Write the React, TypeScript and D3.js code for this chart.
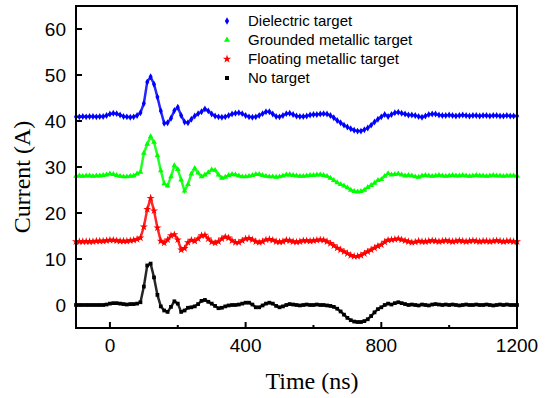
import * as d3 from 'd3';
import React, { useEffect, useRef } from 'react';

// time axis, sampled every 10 ns from -100 to 1200
const times = d3.range(-100, 1201, 10);

const noTarget = [
  0, 0, 0, 0, 0, 0, 0, 0, 0, 0.1,
  0.3, 0.4, 0.4, 0.3, 0.2, 0.1, 0.2, 0.2, 0.3, 0.6,
  4.0, 8.6, 9.0, 6.0, 2.2, -0.3, -1.2, -1.5, -0.4, 0.8,
  0.3, -1.5, -1.2, -0.6, -0.5, -0.3, 0.2, 0.9, 1.1, 0.7,
  0.3, -0.2, -0.7, -0.6, -0.3, -0.1, 0.0, 0.0, 0.1, 0.3,
  0.5, 0.5, 0.1, -0.5, -0.5, -0.1, 0.3, 0.5, 0.3, -0.2,
  -0.5, -0.3, 0.0, 0.2, 0.1, 0.0, -0.1, 0.0, 0.1, 0.0,
  0.0, 0.1, 0.0, 0.0, -0.1, -0.2, -0.4, -0.8, -1.4, -2.1,
  -2.8, -3.3, -3.6, -3.7, -3.7, -3.5, -3.1, -2.4, -1.6, -0.9,
  -0.5, 0.0, 0.3, 0.1, 0.4, 0.6, 0.4, 0.2, 0.0, 0.1,
  0.0, -0.1, 0.1, 0.0, -0.1, 0.1, 0.2, 0.1, 0.0, 0.1,
  0.0, 0.1, 0.0, -0.1, 0.0, 0.1, 0.0, 0.0, 0.1, 0.0,
  0.0, 0.1, 0.0, -0.1, 0.0, 0.1, 0.0, 0.1, 0.0, 0.0,
  0.0,
];

const floating = [
  13.8, 13.8, 13.8, 13.8, 13.8, 13.8, 13.9, 13.9, 13.9, 14.0,
  14.1, 14.1, 14.0, 13.9, 13.9, 13.9, 14.0, 14.1, 14.3, 14.6,
  17.0, 20.8, 23.2, 20.5, 16.8, 13.9, 13.5, 14.2, 15.1, 15.3,
  14.2, 12.0, 12.3, 13.6, 14.1, 13.9, 14.4, 15.1, 15.2, 14.4,
  13.7, 13.5, 13.8, 14.4, 14.8, 14.6, 14.0, 13.6, 13.6, 14.0,
  14.4, 14.5, 14.2, 13.8, 13.6, 13.8, 14.2, 14.3, 14.1, 13.8,
  13.7, 13.8, 14.1, 14.0, 13.8, 13.7, 13.8, 14.0, 14.0, 13.9,
  14.0, 14.1, 14.2, 14.1, 13.8, 13.4, 12.9, 12.4, 12.0, 11.6,
  11.2, 10.8, 10.6, 10.6, 10.8, 11.2, 11.6, 12.0, 12.4, 12.8,
  13.1, 13.7, 14.1, 14.2, 14.3, 14.4, 14.2, 14.0, 13.8, 13.6,
  13.7, 13.9, 13.8, 13.8, 13.9, 14.0, 13.9, 13.8, 13.9, 14.0,
  13.9, 13.8, 13.9, 14.0, 13.9, 13.8, 13.9, 14.0, 13.9, 13.8,
  13.9, 13.9, 13.8, 13.9, 14.0, 13.9, 13.8, 13.9, 13.9, 13.8,
  13.8,
];

const grounded = [
  28.0, 28.1, 28.0, 28.1, 28.1, 28.0, 28.1, 28.1, 28.2, 28.3,
  28.5, 28.4, 28.2, 28.0, 27.9, 27.9, 28.0, 28.1, 28.5, 28.9,
  33.0, 35.0, 36.6, 35.4, 32.5, 29.2, 26.4, 25.9, 27.9, 30.3,
  29.5, 27.2, 24.8, 26.2, 28.5, 29.7, 28.7, 27.9, 28.3, 28.8,
  29.4, 29.3, 28.3, 27.6, 27.8, 28.2, 28.4, 28.3, 28.1, 27.9,
  27.9, 28.0, 28.2, 28.4, 28.4, 28.2, 28.0, 27.9, 27.9, 27.8,
  27.9, 28.1, 28.3, 28.3, 28.2, 28.1, 28.0, 28.0, 28.1, 28.2,
  28.2, 28.3, 28.3, 28.2, 28.0, 27.6, 27.1, 26.6, 26.2, 25.9,
  25.5, 25.0, 24.7, 24.6, 24.7, 25.0, 25.6, 26.0, 26.5, 27.1,
  27.3, 28.0, 28.6, 28.3, 28.4, 28.5, 28.3, 28.1, 28.2, 28.1,
  27.9, 27.8, 28.1, 28.2, 28.1, 28.0, 28.1, 28.2, 28.1, 28.0,
  28.1, 28.2, 28.1, 28.1, 28.2, 28.1, 28.0, 28.1, 28.2, 28.1,
  28.1, 28.0, 28.1, 28.2, 28.1, 28.1, 28.0, 28.1, 28.1, 28.1,
  28.1,
];

const dielectric = [
  40.9, 40.9, 41.0, 40.9, 41.0, 41.0, 40.9, 41.0, 41.0, 41.2,
  41.5, 41.7, 41.6, 41.3, 41.0, 40.9, 40.8, 40.9, 41.2, 41.8,
  43.8, 48.5, 49.6, 48.0, 45.2, 42.2, 39.5, 39.6, 40.6, 42.3,
  43.0, 41.2, 39.8, 39.6, 40.4, 41.1, 41.6, 42.0, 42.6, 42.2,
  41.5, 41.1, 40.9, 40.8, 40.9, 41.2, 41.5, 41.7, 41.8, 41.6,
  41.2, 40.9, 40.8, 40.9, 41.2, 41.6, 42.0, 42.0, 41.5, 41.0,
  40.9, 41.2, 41.6, 41.7, 41.4, 41.1, 41.0, 41.0, 41.1, 41.3,
  41.4, 41.4, 41.5, 41.6, 41.5, 41.2, 40.7, 40.1, 39.6, 39.1,
  38.7, 38.3, 38.0, 37.8, 37.8, 38.1, 38.5, 39.1, 39.8, 40.4,
  40.9, 41.4, 41.0, 41.4, 41.8, 41.9, 41.7, 41.5, 41.3, 41.3,
  41.2, 41.0, 40.8, 41.1, 41.4, 41.5, 41.5, 41.3, 41.2, 41.2,
  41.3, 41.2, 41.1, 41.2, 41.3, 41.2, 41.1, 41.2, 41.2, 41.1,
  41.2, 41.2, 41.1, 41.2, 41.2, 41.1, 41.1, 41.2, 41.1, 41.1,
  41.1,
];

const seriesNames = ['Dielectric target', 'Grounded metallic target', 'Floating metallic target', 'No target'];
const seriesValues = [dielectric, grounded, floating, noTarget];
const seriesColors = ['#0000ff', '#00ff00', '#ff0000', '#000000'];
const seriesSymbols = [d3.symbolDiamond, d3.symbolTriangle, d3.symbolStar, d3.symbolSquare];

const xMajorTicks = [0, 400, 800, 1200];
const xMinorTicks = [200, 600, 1000];
const yTicks = [0, 10, 20, 30, 40, 50, 60];

const width = 547;
const height = 398;

const App = () => {
  const svgRef = useRef<SVGSVGElement>(null);

  useEffect(() => {
    const svg = d3.select(svgRef.current);
    svg.selectAll('*').remove();

    const left = 76, right = 517, top = 6, bottom = 328;

    const x = d3.scaleLinear().domain([-100, 1200]).range([left, right]);
    const y = d3.scaleLinear().domain([-5, 65]).range([bottom, top]);

    const line = d3.line<number>()
      .x((d, j) => x(times[j]))
      .y(d => y(d));

    // data: a thin trace under the markers so the flat parts read as a thick band
    seriesValues.forEach((vals, i) => {
      svg.append('path')
        .datum(vals)
        .attr('d', line)
        .attr('fill', 'none')
        .attr('stroke', seriesColors[i])
        .attr('stroke-width', 2.5)
        .attr('stroke-opacity', 0.85);

      const sym = d3.symbol().type(seriesSymbols[i]).size(i === 2 ? 20 : 14);
      svg.append('g')
        .selectAll('path')
        .data(vals)
        .join('path')
        .attr('transform', (d, j) => `translate(${x(times[j])},${y(d)})`)
        .attr('d', sym)
        .attr('fill', seriesColors[i]);
    });

    // frame
    svg.append('rect')
      .attr('x', left).attr('y', top)
      .attr('width', right - left).attr('height', bottom - top)
      .attr('fill', 'none').attr('stroke', '#000').attr('stroke-width', 2);

    // x ticks (inward)
    svg.append('g').selectAll('line.maj').data(xMajorTicks).join('line')
      .attr('x1', d => x(d)).attr('x2', d => x(d))
      .attr('y1', bottom).attr('y2', bottom - 6)
      .attr('stroke', '#000').attr('stroke-width', 2);
    svg.append('g').selectAll('line.min').data(xMinorTicks).join('line')
      .attr('x1', d => x(d)).attr('x2', d => x(d))
      .attr('y1', bottom).attr('y2', bottom - 3)
      .attr('stroke', '#000').attr('stroke-width', 2);
    svg.append('g').selectAll('text').data(xMajorTicks).join('text')
      .attr('x', d => x(d)).attr('y', 352)
      .attr('text-anchor', 'middle')
      .style('font-family', 'Liberation Sans, Arial, sans-serif')
      .style('font-size', '19px')
      .text(d => d);

    // y ticks
    svg.append('g').selectAll('line').data(yTicks).join('line')
      .attr('x1', left).attr('x2', left + 6)
      .attr('y1', d => y(d)).attr('y2', d => y(d))
      .attr('stroke', '#000').attr('stroke-width', 2);
    svg.append('g').selectAll('text').data(yTicks).join('text')
      .attr('x', 66).attr('y', d => y(d) + 7)
      .attr('text-anchor', 'end')
      .style('font-family', 'Liberation Sans, Arial, sans-serif')
      .style('font-size', '19px')
      .text(d => d);

    // axis titles
    svg.append('text')
      .attr('x', 312).attr('y', 389)
      .attr('text-anchor', 'middle')
      .style('font-family', 'Liberation Serif, Times New Roman, serif')
      .style('font-size', '24px')
      .text('Time (ns)');
    svg.append('text')
      .attr('transform', 'translate(30,177) rotate(-90)')
      .attr('text-anchor', 'middle')
      .style('font-family', 'Liberation Serif, Times New Roman, serif')
      .style('font-size', '24px')
      .text('Current (A)');

    // legend
    const legend = svg.append('g');
    seriesNames.forEach((name, i) => {
      const ly = 21 + i * 19;
      legend.append('path')
        .attr('transform', `translate(227,${ly})`)
        .attr('d', d3.symbol().type(seriesSymbols[i]).size(i === 2 ? 22 : 16)())
        .attr('fill', seriesColors[i]);
      legend.append('text')
        .attr('x', 248).attr('y', ly + 5)
        .style('font-family', 'Liberation Sans, Arial, sans-serif')
        .style('font-size', '15px')
        .text(name);
    });
  }, []);

  return (
    <div style={{ position: 'absolute', left: 0, top: 0 }}>
      <svg ref={svgRef} width={width} height={height} style={{ display: 'block', background: '#fff' }} />
    </div>
  );
};

export default App;
